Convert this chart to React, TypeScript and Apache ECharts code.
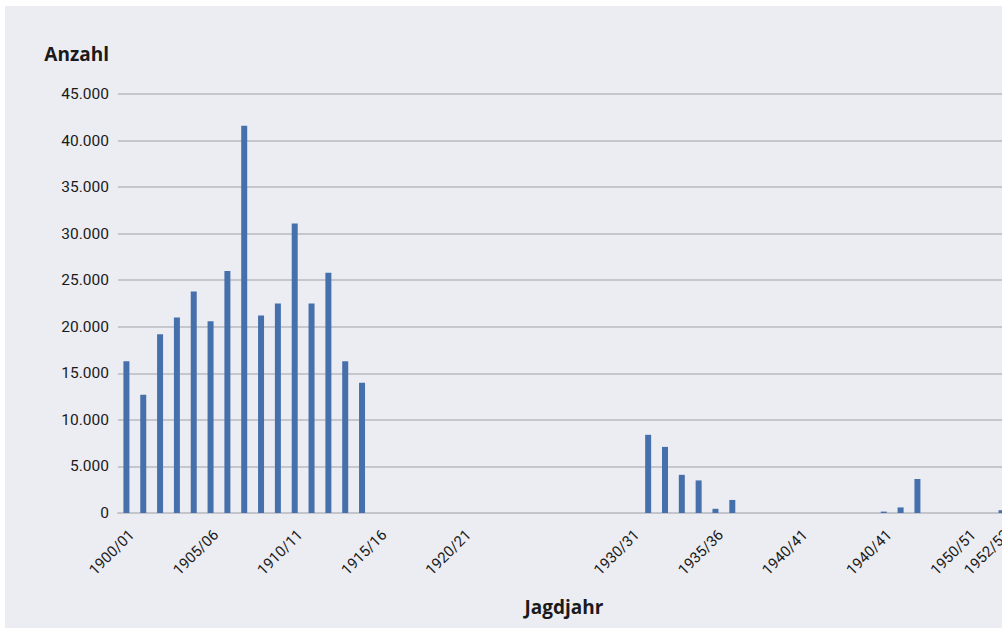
import React, { useEffect, useRef } from "react";
import * as echarts from "echarts";

const seasons = [
  "1900/01", "1901/02", "1902/03", "1903/04", "1904/05", "1905/06", "1906/07", "1907/08", "1908/09", "1909/10",
  "1910/11", "1911/12", "1912/13", "1913/14", "1914/15", "1915/16", "1916/17", "1917/18", "1918/19", "1919/20",
  "1920/21", "1921/22", "1922/23", "1923/24", "1924/25", "1925/26", "1926/27", "1927/28", "1928/29", "1929/30",
  "1930/31", "1931/32", "1932/33", "1933/34", "1934/35", "1935/36", "1936/37", "1937/38", "1938/39", "1939/40",
  "1940/41", "1941/42", "1942/43", "1943/44", "1944/45", "1945/46", "1946/47", "1947/48", "1948/49", "1949/50",
  "1950/51", "1951/52", "1952/53",
];

const counts = [
  16300, 12700, 19200, 21000, 23800, 20600, 26000, 41600, 21200, 22500,
  31100, 22500, 25800, 16300, 14000, 0, 0, 0, 0, 0,
  0, 0, 0, 0, 0, 0, 0, 0, 0, 0,
  0, 8400, 7100, 4100, 3500, 450, 1400, 0, 0, 0,
  0, 0, 0, 0, 0, 150, 600, 3650, 0, 0,
  0, 0, 300,
];

// labels shown on the x axis (as printed in the original, incl. its "1940/41" twice)
const xTickIndices = [0, 5, 10, 15, 20, 30, 35, 40, 45, 50, 52];
const xTickLabels = ["1900/01", "1905/06", "1910/11", "1915/16", "1920/21", "1930/31", "1935/36", "1940/41", "1940/41", "1950/51", "1952/53"];

const yMin = 0;
const yMax = 45000;
const yStep = 5000;

const yName = "Anzahl";
const xName = "Jagdjahr";

const fmtThousands = (v: number) => String(v).replace(/\B(?=(\d{3})+(?!\d))/g, ".");

export default function App() {
  const ref = useRef<HTMLDivElement>(null);

  useEffect(() => {
    document.body.style.margin = "0";
    if (!ref.current) return;
    const chart = echarts.init(ref.current, undefined, { renderer: "svg" });
    const tickFont = "Roboto, 'Noto Sans', sans-serif";
    const nameFont = "'Open Sans', 'Noto Sans', sans-serif";
    chart.setOption({
      animation: false,
      backgroundColor: "#ECEDF2",
      grid: { left: 113, right: 5, top: 88, bottom: 115, containLabel: false },
      xAxis: {
        type: "category",
        data: seasons,
        name: xName,
        nameLocation: "middle",
        nameGap: 84,
        nameTextStyle: { fontFamily: nameFont, fontWeight: "bold", fontSize: 19, color: "#1a1a1a" },
        axisLine: { show: true, lineStyle: { color: "#C4C5CA", width: 2 } },
        axisTick: { show: false },
        axisLabel: {
          interval: 0,
          rotate: 45,
          margin: 14,
          verticalAlign: "top",
          lineHeight: 15,
          fontFamily: tickFont,
          fontSize: 15,
          color: "#1a1a1a",
          formatter: (_v: string, idx: number) => {
            const k = xTickIndices.indexOf(idx);
            return k >= 0 ? xTickLabels[k] : "";
          },
        },
        splitLine: { show: false },
      },
      yAxis: {
        type: "value",
        min: yMin,
        max: yMax,
        interval: yStep,
        axisLine: { show: false },
        axisTick: { show: false },
        axisLabel: {
          margin: 9,
          fontFamily: tickFont,
          fontSize: 15.5,
          color: "#1a1a1a",
          formatter: (v: number) => fmtThousands(v),
        },
        splitLine: { show: true, lineStyle: { color: "#C6C7CC", width: 2 } },
      },
      graphic: [
        {
          type: "text",
          x: 104,
          y: 47.5,
          style: {
            text: yName,
            fontFamily: nameFont,
            fontWeight: "bold",
            fontSize: 19,
            fill: "#1a1a1a",
            align: "right",
            verticalAlign: "middle",
          },
        },
      ],
      series: [
        {
          type: "bar",
          data: counts,
          barWidth: 6,
          itemStyle: { color: "#4670AB" },
        },
      ],
    });
    return () => chart.dispose();
  }, []);

  return (
    <div style={{ position: "relative", width: 1002, height: 629, overflow: "hidden", background: "#ffffff" }}>
      <div ref={ref} style={{ position: "absolute", left: 5, top: 6, width: 1010, height: 622 }} />
    </div>
  );
}
